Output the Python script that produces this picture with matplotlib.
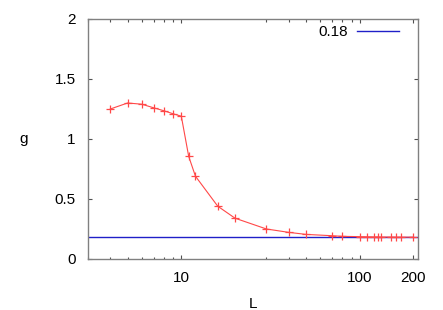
import numpy as np
import matplotlib
matplotlib.use("Agg")
import matplotlib.pyplot as plt
from matplotlib.ticker import FixedLocator, NullFormatter

plt.rcParams['font.family'] = ['Liberation Sans', 'DejaVu Sans']

# data
L = [4, 5, 6, 7, 8, 9, 10, 11, 12, 16, 20, 30, 40, 50, 70, 80,
     100, 110, 120, 126, 132, 150, 160, 170, 200]
g = [1.25, 1.30, 1.29, 1.26, 1.235, 1.21, 1.19, 0.855, 0.69, 0.44, 0.34,
     0.25, 0.222, 0.205, 0.194, 0.189, 0.186, 0.185, 0.184, 0.184, 0.183,
     0.183, 0.182, 0.182, 0.182]
g_ref = 0.18
ref_label = "0.18"

x_ticks = [10, 100, 200]
y_ticks = [0, 0.5, 1, 1.5, 2]

fig = plt.figure(figsize=(4.43, 3.10), dpi=100)
ax = fig.add_axes([88 / 443, 51 / 310, 330 / 443, 240 / 310])

ax.axhline(g_ref, color='#2020c8', lw=1.0, label=ref_label, zorder=2)
ax.plot(L, g, color='#ff4848', lw=0.8, marker='+', ms=6, mew=0.9, zorder=3)

ax.set_xscale('log')
ax.set_xlim(3, 212)
ax.set_ylim(0, 2)

ax.xaxis.set_major_locator(FixedLocator(x_ticks))
ax.set_xticklabels([str(t) for t in x_ticks])
minors = [v * d for d in (1, 10) for v in range(3, 10)] + [200]
ax.xaxis.set_minor_locator(FixedLocator([m for m in minors if m not in x_ticks]))
ax.xaxis.set_minor_formatter(NullFormatter())
ax.set_yticks(y_ticks)
ax.set_yticklabels(['0', '0.5', '1', '1.5', '2'])

ax.tick_params(which='both', direction='in', top=True, right=True,
               labelsize=11, width=0.8, color='#505050')
ax.tick_params(which='major', length=3, pad=9)
ax.tick_params(which='minor', length=1.8)
for s in ax.spines.values():
    s.set_color('#808080')
    s.set_linewidth(1.0)

ax.set_xlabel('L', fontsize=11, labelpad=8)
ax.set_ylabel('g', fontsize=11, rotation=0, labelpad=22, va='center')

ax.legend(loc='upper right', frameon=False, markerfirst=False, fontsize=11,
          handlelength=2.75, borderpad=0, borderaxespad=0, handletextpad=0.55,
          bbox_to_anchor=(0.942, 0.974))

fig.savefig('out.png', dpi=100)
